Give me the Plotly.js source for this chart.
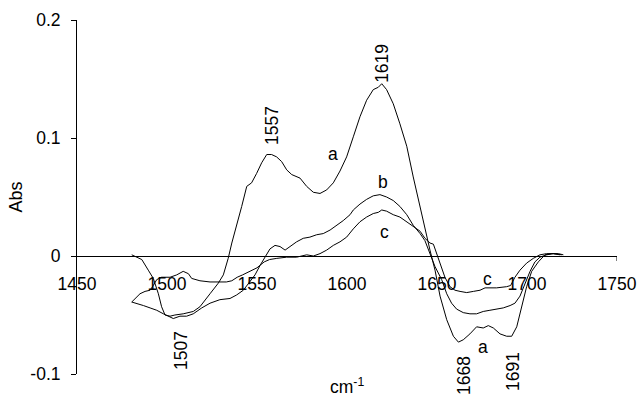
<!DOCTYPE html>
<html>
<head>
<meta charset="utf-8">
<script src="https://cdn.plot.ly/plotly-3.0.1.min.js"></script>
<style>html,body{margin:0;padding:0;background:#fff;}#chart{width:642px;height:396px;}</style>
</head>
<body>
<div id="chart"></div>
<script>
// Wavenumbers (cm-1) and absorbance values
const aX = [1480.4,1486,1489.6,1492.4,1495.2,1497,1498.9,1501.7,1504.4,1509,1514.6,1518.3,1523.9,1528.5,1531.3,1534,1536,1537.8,1541.5,1544.3,1547,1549.8,1552.6,1555.4,1558.1,1560.9,1563.7,1566.5,1569.3,1573.9,1577.6,1581.3,1585,1588.7,1592.4,1596.1,1599.8,1603.5,1607.2,1610.9,1614.6,1617.4,1619.3,1622,1625.7,1629.4,1633.2,1636.8,1640.6,1643.3,1646.1,1648.9,1651.7,1655.4,1659.1,1661.9,1664.6,1668.3,1672,1675.7,1678.5,1681.3,1685,1688.7,1691.5,1694.3,1697,1699.8,1702.6,1706.3,1710,1713.7,1717.4,1720.2];
const aY = [0.001,-0.003,-0.012,-0.019,-0.032,-0.043,-0.050,-0.051,-0.050,-0.049,-0.047,-0.043,-0.032,-0.023,-0.016,-0.002,0.011,0.022,0.042,0.059,0.062,0.070,0.079,0.086,0.086,0.084,0.080,0.073,0.069,0.066,0.059,0.054,0.053,0.056,0.062,0.072,0.084,0.101,0.118,0.132,0.141,0.143,0.146,0.141,0.129,0.112,0.093,0.067,0.042,0.022,0.005,-0.012,-0.034,-0.054,-0.068,-0.073,-0.071,-0.066,-0.060,-0.061,-0.059,-0.061,-0.066,-0.068,-0.068,-0.060,-0.043,-0.026,-0.013,-0.005,0.001,0.002,0.002,0.001];

const bX = [1480.4,1483.1,1486.9,1490.6,1494.3,1498,1500.7,1503.5,1507.2,1510.9,1514.6,1519.3,1523.9,1529.4,1535,1538.7,1542.4,1546.1,1548.9,1551.7,1554.4,1557.2,1560,1562.8,1565.6,1568.3,1572,1575.7,1579.4,1583.1,1586.8,1590.6,1594.3,1597.9,1601.7,1603.5,1607.2,1610.9,1614.6,1618.3,1622,1625.7,1629.4,1633.2,1636.8,1640.6,1643.3,1646.1,1648.9,1652.6,1655.4,1658.1,1660.9,1664.6,1668.3,1672,1675.7,1679.4,1683.1,1686.8,1690.6,1693.3,1696.1,1698.9,1701.7,1704.4,1707.2,1710.9,1714.6,1719.3];
const bY = [-0.039,-0.040,-0.042,-0.044,-0.046,-0.049,-0.051,-0.053,-0.051,-0.051,-0.049,-0.044,-0.040,-0.037,-0.036,-0.033,-0.029,-0.022,-0.016,-0.008,-0.001,0.006,0.009,0.008,0.005,0.008,0.012,0.015,0.016,0.018,0.019,0.022,0.026,0.030,0.035,0.039,0.044,0.048,0.051,0.052,0.050,0.047,0.042,0.035,0.026,0.019,0.013,0.002,-0.009,-0.020,-0.032,-0.040,-0.045,-0.048,-0.049,-0.049,-0.047,-0.046,-0.045,-0.044,-0.042,-0.040,-0.034,-0.023,-0.013,-0.005,-0.001,0.001,0.002,0.001];

const cX = [1480.4,1482.2,1485,1487.8,1490.6,1492.4,1494.3,1497,1501.7,1505.4,1509,1511.9,1513.7,1518.3,1523.9,1529.4,1533,1536,1539,1542,1546,1550,1554,1557,1561,1566.5,1572,1577.6,1581.3,1585,1588.7,1592.4,1596.1,1599.8,1603.5,1607.2,1610.9,1614.6,1617.4,1619.3,1622,1625.7,1629.4,1633.2,1636.8,1640.6,1643.3,1646.1,1648,1649.8,1651.7,1654.4,1657.2,1660,1662.8,1666.5,1670.2,1673.9,1676.7,1679.4,1683.1,1688.7,1690.9,1693.3,1696.1,1699.8,1703.5,1707.2,1710.9,1714.6,1718.3];
const cY = [-0.039,-0.036,-0.032,-0.030,-0.029,-0.025,-0.020,-0.018,-0.018,-0.016,-0.013,-0.015,-0.019,-0.021,-0.022,-0.022,-0.022,-0.021,-0.018,-0.016,-0.013,-0.010,-0.005,-0.003,-0.002,-0.001,-0.001,0.001,0.000,0.002,0.005,0.009,0.012,0.016,0.023,0.029,0.033,0.036,0.037,0.039,0.038,0.035,0.033,0.029,0.025,0.021,0.015,0.011,0.010,0.002,-0.006,-0.018,-0.026,-0.029,-0.030,-0.031,-0.030,-0.029,-0.027,-0.027,-0.027,-0.026,-0.025,-0.018,-0.012,-0.006,-0.002,0.001,0.002,0.002,0.001];

const xTickVals = [1450,1500,1550,1600,1650,1700,1750];
const xTickText = ['1450','1500','1550','1600','1650','1700','1750'];
const yTickVals = [-0.1,0,0.1,0.2];
const yTickText = ['-0.1','0','0.1','0.2'];
const peakLabels = ['1557','1619','1507','1668','1691'];
const curveLabels = ['a','b','c','c','a'];
const xTitle = 'cm<sup>-1</sup>';
const yTitle = 'Abs';

const FONT = 'Liberation Sans, Arial, sans-serif';
const line = {color:'#000', width:1};
const traces = [
  {x:aX, y:aY, mode:'lines', line:line, name:'a'},
  {x:bX, y:bY, mode:'lines', line:line, name:'b'},
  {x:cX, y:cY, mode:'lines', line:line, name:'c'}
];

// label placements [x, y, yshift(px)]
const peakPos = [[1558.3,0.111,0],[1619.4,0.1636,0],[1507.8,-0.0805,0],[1665,-0.0975,-5],[1692.2,-0.0975,0]];
const curvePos = [[1592.2,0.0864],[1620,0.0627],[1620.6,0.0203],[1677.8,-0.0195],[1675.6,-0.0771]];
const annotations = [];
peakLabels.forEach((t,i)=>annotations.push({x:peakPos[i][0], y:peakPos[i][1], yshift:peakPos[i][2], xref:'x', yref:'y', text:t, showarrow:false, textangle:-90, font:{family:FONT,size:17.5,color:'#000'}}));
curveLabels.forEach((t,i)=>annotations.push({x:curvePos[i][0], y:curvePos[i][1], xref:'x', yref:'y', text:t, showarrow:false, font:{family:FONT,size:17.5,color:'#000'}}));
annotations.push({x:0.5, y:-0.035, xref:'paper', yref:'paper', xanchor:'center', yanchor:'middle', text:xTitle, showarrow:false, font:{family:FONT,size:17.5,color:'#000'}});

const layout = {
  width:642, height:396,
  margin:{l:77, r:25, t:20, b:22},
  paper_bgcolor:'#fff', plot_bgcolor:'#fff',
  showlegend:false,
  font:{family:FONT, size:17.5, color:'#000'},
  xaxis:{range:[1450,1750], tickvals:xTickVals, ticktext:xTickText, anchor:'free', position:1/3,
    showline:true, linecolor:'#000', linewidth:1, showgrid:false, zeroline:false, ticks:'',
    ticklabelstandoff:12, tickfont:{family:FONT,size:17.5,color:'#000'}, automargin:false},
  yaxis:{range:[-0.1,0.2], tickvals:yTickVals, ticktext:yTickText,
    showline:true, linecolor:'#000', linewidth:1, showgrid:false, zeroline:false, ticks:'outside', ticklen:5, tickcolor:'#000',
    ticklabelstandoff:7, tickfont:{family:FONT,size:17.5,color:'#000'},
    title:{text:yTitle, font:{family:FONT,size:18,color:'#000'}, standoff:3}, automargin:false},
  shapes:[{type:'line', xref:'x', yref:'y', x0:1750, x1:1750, ysizemode:'pixel', yanchor:0, y0:0, y1:-5, line:{color:'#000', width:1}}],
  annotations:annotations
};
Plotly.newPlot('chart', traces, layout, {staticPlot:true, displayModeBar:false});
</script>
</body>
</html>
